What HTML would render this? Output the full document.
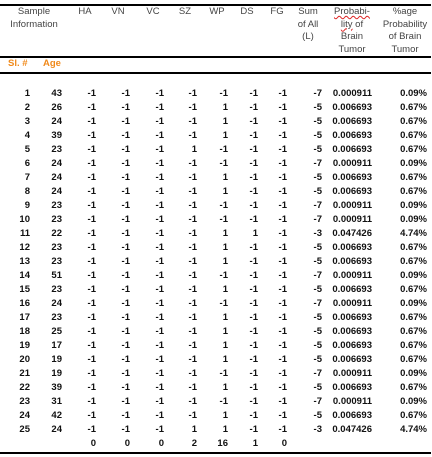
<!DOCTYPE html>
<html><head><meta charset="utf-8"><style>
body{margin:0;width:432px;height:457px;background:#fff;position:relative;overflow:hidden;font-family:"Liberation Sans",sans-serif;}
.t{position:absolute;font-size:9.5px;line-height:12.5px;white-space:nowrap;}
.h{color:#444;text-align:center;transform:translateX(-50%);}
.d{font-weight:bold;color:#111;transform:translateX(-100%);text-align:right;}
.o{color:#f08a1c;font-weight:bold;}
.rule{position:absolute;left:0;width:431px;height:2px;background:#000;}
.sq{text-decoration:underline wavy #d22;text-decoration-thickness:1px;}
</style></head><body>
<div class="rule" style="top:4px"></div>
<div class="rule" style="top:56px"></div>
<div class="rule" style="top:72px"></div>
<div class="rule" style="top:452px"></div>
<div class="t h" style="left:34px;top:6px">Sample<br>Information</div>
<div class="t h" style="left:85px;top:6px">HA</div>
<div class="t h" style="left:118px;top:6px">VN</div>
<div class="t h" style="left:153px;top:6px">VC</div>
<div class="t h" style="left:185px;top:6px">SZ</div>
<div class="t h" style="left:217px;top:6px">WP</div>
<div class="t h" style="left:247px;top:6px">DS</div>
<div class="t h" style="left:277px;top:6px">FG</div>
<div class="t h" style="left:308px;top:6px">Sum<br>of All<br>(L)</div>
<div class="t h" style="left:352px;top:6px"><span class="sq">Probabi-<br>lity</span> of<br>Brain<br>Tumor</div>
<div class="t h" style="left:405px;top:6px">%age<br>Probability<br>of Brain<br>Tumor</div>
<div class="t o" style="left:8px;top:58px">Sl. #</div>
<div class="t o" style="left:43px;top:58px">Age</div>
<div id="rows"></div>
<script>
const ages=[43,26,24,39,23,24,24,24,23,23,22,23,23,51,23,24,23,25,17,19,19,39,31,42,24];
const sz=[-1,-1,-1,-1,1,-1,-1,-1,-1,-1,-1,-1,-1,-1,-1,-1,-1,-1,-1,-1,-1,-1,-1,-1,1];
const wp=[-1,1,1,1,-1,-1,1,1,-1,-1,1,1,1,-1,1,-1,1,1,1,1,-1,1,-1,1,1];
const ds=[-1,-1,-1,-1,-1,-1,-1,-1,-1,-1,1,-1,-1,-1,-1,-1,-1,-1,-1,-1,-1,-1,-1,-1,-1];
const totals=[0,0,0,2,16,1,0];
const rights=[30,62,96,130,164,197,228,258,287,322,372,427];
const c=document.getElementById('rows');
function cell(txt,x,y,name){const e=document.createElement('div');e.className='t d';e.style.left=x+'px';e.style.top=(y-6)+'px';e.textContent=txt;


c.appendChild(e);}
ages.forEach((a,i)=>{
  const y=94+i*14;
  const vals=[-1,-1,-1,sz[i],wp[i],ds[i],-1];
  const sum=vals.reduce((s,v)=>s+v,0);
  const p=1/(1+Math.exp(-sum));
  const row=[i+1,a,...vals,sum,p.toFixed(6),(p*100).toFixed(2)+'%'];
  row.forEach((v,j)=>cell(String(v),rights[j],y,'row-'+(i+1)+'-col-'+j));
});
totals.forEach((v,j)=>cell(String(v),rights[j+2],94+25*14,'total-col-'+j));
</script>
</body></html>
